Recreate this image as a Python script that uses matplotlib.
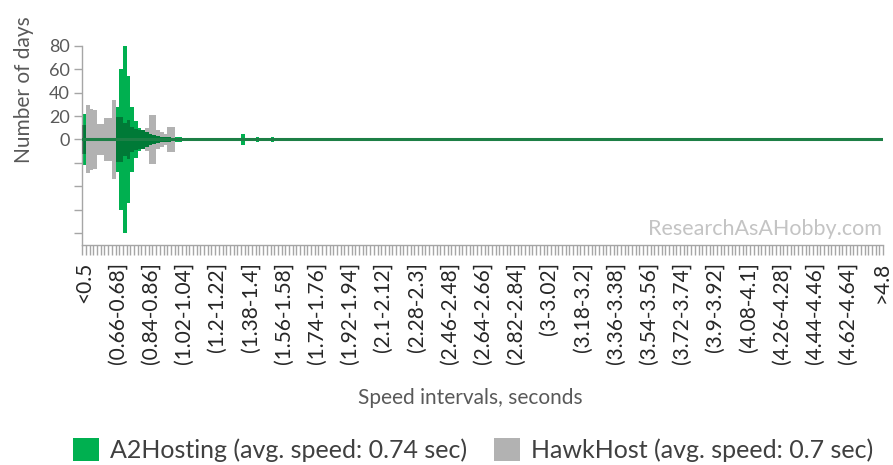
import matplotlib
matplotlib.use("Agg")
import matplotlib.pyplot as plt
from matplotlib.patches import Patch
import numpy as np

plt.rcParams['font.family'] = ['Lato', 'DejaVu Sans']

# ---- data ----
n_categories = 217  # "<0.5", (0.5-0.52] ... (4.78-4.8], ">4.8"
tick_positions = [0, 9, 18, 27, 36, 45, 54, 63, 72, 81, 90, 99, 108, 117,
                  126, 135, 144, 153, 162, 171, 180, 189, 198, 207, 216]
tick_labels = ["<0.5", "(0.66-0.68]", "(0.84-0.86]", "(1.02-1.04]", "(1.2-1.22]",
               "(1.38-1.4]", "(1.56-1.58]", "(1.74-1.76]", "(1.92-1.94]", "(2.1-2.12]",
               "(2.28-2.3]", "(2.46-2.48]", "(2.64-2.66]", "(2.82-2.84]", "(3-3.02]",
               "(3.18-3.2]", "(3.36-3.38]", "(3.54-3.56]", "(3.72-3.74]", "(3.9-3.92]",
               "(4.08-4.1]", "(4.26-4.28]", "(4.44-4.46]", "(4.62-4.64]", ">4.8"]

# days per interval (first intervals; the rest are zero)
a2hosting_head = [22, 0, 0, 0, 0, 0, 0, 0, 1, 28,
                  60, 80, 54, 28, 16, 10, 8, 6, 5, 4,
                  3, 2, 2, 2, 1, 2, 2, 1, 0, 1,
                  1, 1, 1, 0, 0, 0, 0, 0, 0, 0,
                  0, 0, 0, 5, 0, 0, 0, 2, 1, 0,
                  1, 2]
hawkhost_head = [12, 29, 26, 25, 13, 13, 18, 18, 34, 19,
                 19, 14, 17, 11, 9, 8, 8, 10, 21, 21,
                 8, 6, 5, 11, 11]

a2hosting = a2hosting_head + [0] * (n_categories - len(a2hosting_head))
hawkhost = hawkhost_head + [0] * (n_categories - len(hawkhost_head))

series_names = ["A2Hosting (avg. speed: 0.74 sec)", "HawkHost (avg. speed: 0.7 sec)"]

# ---- plot ----
fig = plt.figure(figsize=(8.93, 4.65), dpi=100)
ax = fig.add_axes([0.0922, 0.4731, 0.8966, 0.4286])

edges = np.arange(n_categories + 1) - 0.5
a2 = np.array(a2hosting, dtype=float)
hk = np.array(hawkhost, dtype=float)

green = '#00b050'
ax.stairs(a2, edges, baseline=-a2, fill=True, color=green, linewidth=0, zorder=2)
ax.stairs(hk, edges, baseline=-hk, fill=True, color='black', alpha=0.3, linewidth=0, zorder=3)
ax.axhline(0, color='#1d7f46', lw=2.2, zorder=4)

ax.set_xlim(-0.5, n_categories - 0.5)
ax.set_ylim(-90, 80)

axis_grey = '#a6a6a6'
for s in ['top', 'right']:
    ax.spines[s].set_visible(False)
for s in ['left', 'bottom']:
    ax.spines[s].set_color(axis_grey)
    ax.spines[s].set_linewidth(1.0)

ax.set_yticks([80, 60, 40, 20, 0, -20, -40, -60, -80])
ax.set_yticklabels(['80', '60', '40', '20', '0', '', '', '', ''])
ax.tick_params(axis='y', direction='out', length=6, width=1, color=axis_grey,
               labelsize=13, labelcolor='#595959', pad=3)

ax.set_xticks(tick_positions)
ax.set_xticklabels(tick_labels, rotation=90, ha='center', va='top')
ax.set_xticks(edges, minor=True)
ax.tick_params(axis='x', which='major', length=0, labelsize=15, labelcolor='#262626', pad=12)
ax.tick_params(axis='x', which='minor', direction='out', length=7, width=1, color=axis_grey)

fig.text(24 / 893, 1 - 90 / 465, 'Number of days', rotation=90, ha='center', va='center',
         fontsize=15, color='#595959')
fig.text(470 / 893, 1 - 398 / 465, 'Speed intervals, seconds', ha='center', va='center',
         fontsize=15, color='#595959')
fig.text(882 / 893, 1 - 229 / 465, 'ResearchAsAHobby.com', ha='right', va='center',
         fontsize=15.5, color='#c4c4c4')

handles = [Patch(facecolor=green, edgecolor='none'),
           Patch(facecolor='black', alpha=0.3, edgecolor='none')]
fig.legend(handles, series_names, loc='center', bbox_to_anchor=(0.530, 1 - 450 / 465),
           ncol=2, frameon=False, fontsize=18, handlelength=1.05, handleheight=1.05,
           handletextpad=0.45, columnspacing=1.05, labelcolor='#404040')

fig.savefig('out.png', dpi=100)
